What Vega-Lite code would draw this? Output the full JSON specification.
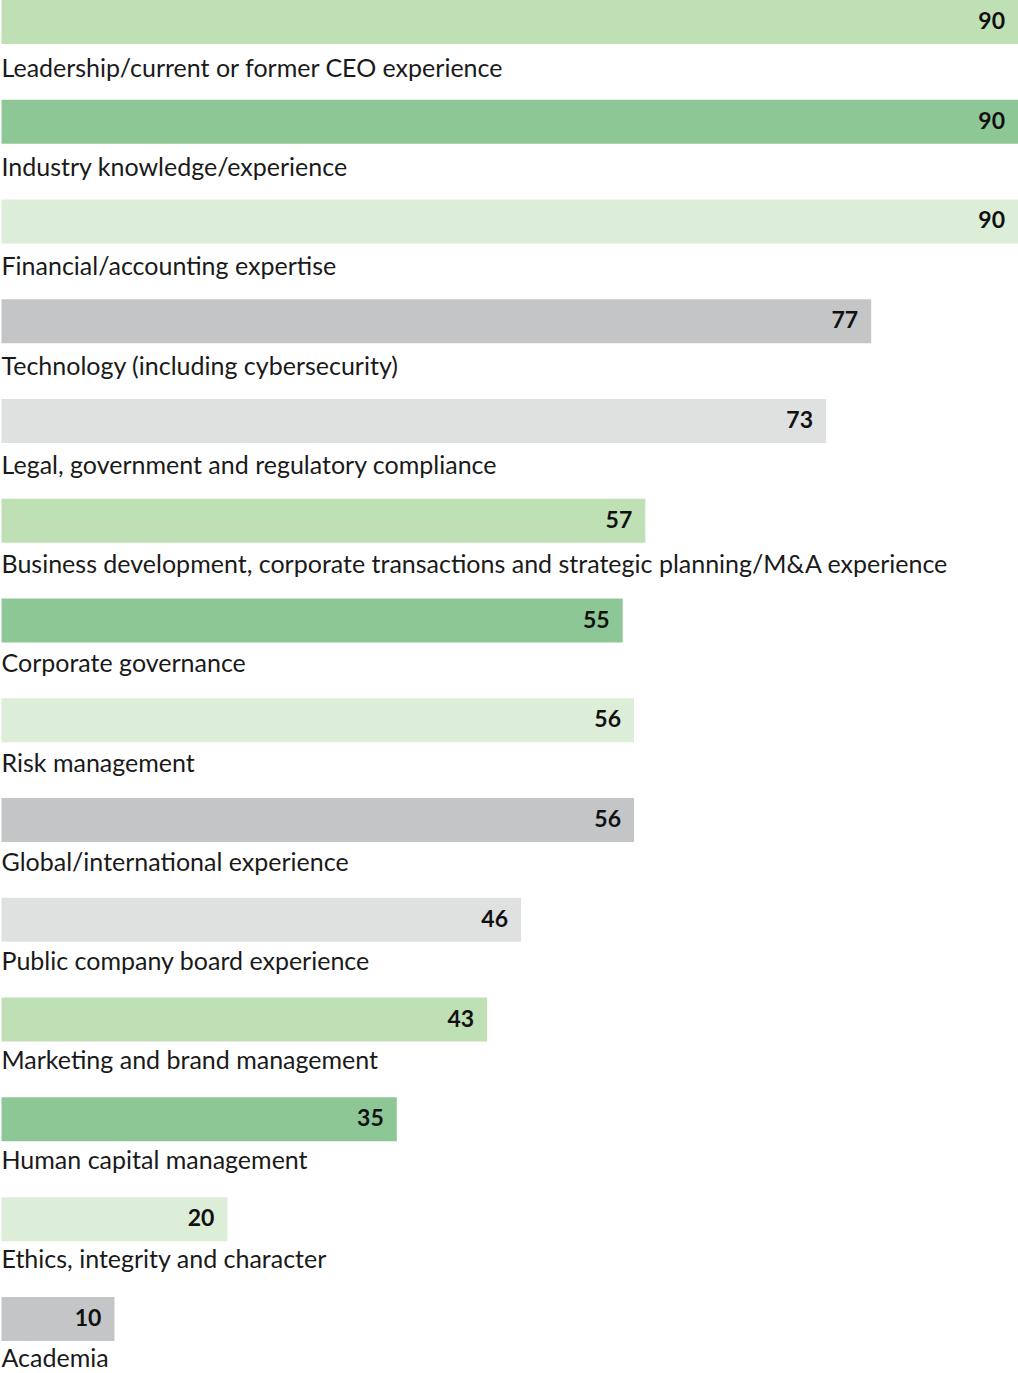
{
  "$schema": "https://vega.github.io/schema/vega-lite/v6.json",
  "width": 1018,
  "height": 1373,
  "autosize": {"type": "none"},
  "padding": 0,
  "background": "white",
  "config": {"view": {"stroke": null}},
  "data": {"values": [
    {"skill": "Leadership/current or former CEO experience", "pct": 90},
    {"skill": "Industry knowledge/experience", "pct": 90},
    {"skill": "Financial/accounting expertise", "pct": 90},
    {"skill": "Technology (including cybersecurity)", "pct": 77},
    {"skill": "Legal, government and regulatory compliance", "pct": 73},
    {"skill": "Business development, corporate transactions and strategic planning/M&A experience", "pct": 57},
    {"skill": "Corporate governance", "pct": 55},
    {"skill": "Risk management", "pct": 56},
    {"skill": "Global/international experience", "pct": 56},
    {"skill": "Public company board experience", "pct": 46},
    {"skill": "Marketing and brand management", "pct": 43},
    {"skill": "Human capital management", "pct": 35},
    {"skill": "Ethics, integrity and character", "pct": 20},
    {"skill": "Academia", "pct": 10}
  ]},
  "resolve": {"scale": {"y": "independent"}},
  "layer": [
    {
      "encoding": {
        "y": {"field": "skill", "type": "nominal", "sort": null, "axis": null,
              "scale": {"range": [-28, 1368.8], "paddingInner": 0, "paddingOuter": 0}},
        "x": {"field": "pct", "type": "quantitative", "axis": null,
              "scale": {"domain": [0, 90], "range": [1.5, 1018], "nice": false}}
      },
      "layer": [
        {
          "mark": {"type": "bar", "height": 44},
          "encoding": {
            "color": {"field": "skill", "type": "nominal", "legend": null, "sort": null,
                      "scale": {"range": ["#bfe0b4", "#8ec796", "#dcedd8", "#c4c5c7", "#dfe0e0",
                                          "#bfe0b4", "#8ec796", "#dcedd8", "#c4c5c7", "#dfe0e0",
                                          "#bfe0b4", "#8ec796", "#dcedd8", "#c4c5c7"]}}
          }
        },
        {
          "mark": {"type": "text", "align": "right", "baseline": "middle", "dx": -13, "dy": 0,
                   "font": "Lato", "fontSize": 23, "fontWeight": "bold", "color": "#111111"},
          "encoding": {
            "text": {"field": "pct", "type": "quantitative"}
          }
        }
      ]
    },
    {
      "mark": {"type": "text", "align": "left", "baseline": "alphabetic", "dy": 0,
               "font": "Lato", "fontSize": 25, "letterSpacing": 0.12, "color": "#1a1a1a"},
      "encoding": {
        "y": {"field": "skill", "type": "nominal", "sort": null, "axis": null,
              "scale": {"range": [27.4, 1416.6], "paddingInner": 0, "paddingOuter": 0}},
        "x": {"datum": 0, "type": "quantitative",
              "scale": {"domain": [0, 90], "range": [1.5, 1018], "nice": false}},
        "text": {"field": "skill", "type": "nominal"}
      }
    }
  ]
}
